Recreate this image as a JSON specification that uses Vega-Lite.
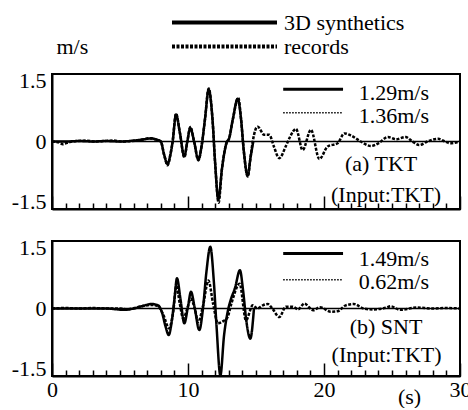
{
  "$schema": "https://vega.github.io/schema/vega-lite/v6.json",
  "padding": {"left": 10, "top": 9, "right": 0, "bottom": 0},
  "config": {
    "font": "Liberation Serif",
    "view": {"stroke": "black", "strokeWidth": 2},
    "axis": {
      "grid": false, "domainColor": "black", "domainWidth": 2,
      "tickColor": "black", "tickWidth": 1.5,
      "labelColor": "black", "labelFont": "Liberation Serif", "labelFontSize": 22,
      "titleFont": "Liberation Serif", "titleFontSize": 22, "titleFontWeight": "normal", "titleColor": "black"
    },
    "text": {"font": "Liberation Serif", "fontSize": 22, "color": "black"}
  },
  "datasets": {
    "traces": [
      {"panel":"a","series":"3D synthetics","t":0,"v":0},
      {"panel":"a","series":"3D synthetics","t":1,"v":0},
      {"panel":"a","series":"3D synthetics","t":2,"v":0.01},
      {"panel":"a","series":"3D synthetics","t":3,"v":0},
      {"panel":"a","series":"3D synthetics","t":4,"v":0.01},
      {"panel":"a","series":"3D synthetics","t":5,"v":0},
      {"panel":"a","series":"3D synthetics","t":6,"v":0.02},
      {"panel":"a","series":"3D synthetics","t":6.8,"v":0.05},
      {"panel":"a","series":"3D synthetics","t":7.3,"v":0.07},
      {"panel":"a","series":"3D synthetics","t":7.7,"v":0.04},
      {"panel":"a","series":"3D synthetics","t":8.0,"v":0},
      {"panel":"a","series":"3D synthetics","t":8.25,"v":-0.3},
      {"panel":"a","series":"3D synthetics","t":8.5,"v":-0.5},
      {"panel":"a","series":"3D synthetics","t":8.7,"v":-0.3},
      {"panel":"a","series":"3D synthetics","t":8.87,"v":0},
      {"panel":"a","series":"3D synthetics","t":9.12,"v":0.6},
      {"panel":"a","series":"3D synthetics","t":9.4,"v":0.2},
      {"panel":"a","series":"3D synthetics","t":9.73,"v":-0.33},
      {"panel":"a","series":"3D synthetics","t":9.95,"v":0},
      {"panel":"a","series":"3D synthetics","t":10.17,"v":0.3},
      {"panel":"a","series":"3D synthetics","t":10.45,"v":0},
      {"panel":"a","series":"3D synthetics","t":10.76,"v":-0.4},
      {"panel":"a","series":"3D synthetics","t":11.0,"v":-0.1},
      {"panel":"a","series":"3D synthetics","t":11.25,"v":0.5},
      {"panel":"a","series":"3D synthetics","t":11.52,"v":1.15},
      {"panel":"a","series":"3D synthetics","t":11.8,"v":0.5},
      {"panel":"a","series":"3D synthetics","t":12.0,"v":-0.5},
      {"panel":"a","series":"3D synthetics","t":12.23,"v":-1.29},
      {"panel":"a","series":"3D synthetics","t":12.5,"v":-0.6},
      {"panel":"a","series":"3D synthetics","t":12.87,"v":0},
      {"panel":"a","series":"3D synthetics","t":13.0,"v":0.05},
      {"panel":"a","series":"3D synthetics","t":13.3,"v":0.5},
      {"panel":"a","series":"3D synthetics","t":13.65,"v":0.95},
      {"panel":"a","series":"3D synthetics","t":13.9,"v":0.5},
      {"panel":"a","series":"3D synthetics","t":14.1,"v":-0.2},
      {"panel":"a","series":"3D synthetics","t":14.39,"v":-0.76},
      {"panel":"a","series":"3D synthetics","t":14.6,"v":-0.35},
      {"panel":"a","series":"3D synthetics","t":14.8,"v":0},

      {"panel":"a","series":"records","t":0,"v":0},
      {"panel":"a","series":"records","t":0.5,"v":-0.02},
      {"panel":"a","series":"records","t":0.8,"v":-0.06},
      {"panel":"a","series":"records","t":1.2,"v":-0.02},
      {"panel":"a","series":"records","t":1.8,"v":0.01},
      {"panel":"a","series":"records","t":2.5,"v":0.02},
      {"panel":"a","series":"records","t":3.2,"v":0},
      {"panel":"a","series":"records","t":3.8,"v":0.01},
      {"panel":"a","series":"records","t":4.5,"v":0.02},
      {"panel":"a","series":"records","t":5.2,"v":0},
      {"panel":"a","series":"records","t":5.8,"v":0.01},
      {"panel":"a","series":"records","t":6.5,"v":0.03},
      {"panel":"a","series":"records","t":7.1,"v":0.07},
      {"panel":"a","series":"records","t":7.6,"v":0.05},
      {"panel":"a","series":"records","t":8.0,"v":0},
      {"panel":"a","series":"records","t":8.25,"v":-0.3},
      {"panel":"a","series":"records","t":8.5,"v":-0.53},
      {"panel":"a","series":"records","t":8.7,"v":-0.3},
      {"panel":"a","series":"records","t":8.87,"v":0},
      {"panel":"a","series":"records","t":9.12,"v":0.62},
      {"panel":"a","series":"records","t":9.4,"v":0.2},
      {"panel":"a","series":"records","t":9.73,"v":-0.35},
      {"panel":"a","series":"records","t":9.95,"v":0},
      {"panel":"a","series":"records","t":10.17,"v":0.32},
      {"panel":"a","series":"records","t":10.45,"v":0},
      {"panel":"a","series":"records","t":10.76,"v":-0.42},
      {"panel":"a","series":"records","t":11.0,"v":-0.1},
      {"panel":"a","series":"records","t":11.25,"v":0.5},
      {"panel":"a","series":"records","t":11.52,"v":1.18},
      {"panel":"a","series":"records","t":11.8,"v":0.5},
      {"panel":"a","series":"records","t":12.0,"v":-0.5},
      {"panel":"a","series":"records","t":12.25,"v":-1.36},
      {"panel":"a","series":"records","t":12.5,"v":-0.6},
      {"panel":"a","series":"records","t":12.87,"v":0},
      {"panel":"a","series":"records","t":13.0,"v":0.05},
      {"panel":"a","series":"records","t":13.3,"v":0.5},
      {"panel":"a","series":"records","t":13.7,"v":0.97},
      {"panel":"a","series":"records","t":13.9,"v":0.5},
      {"panel":"a","series":"records","t":14.1,"v":-0.2},
      {"panel":"a","series":"records","t":14.39,"v":-0.78},
      {"panel":"a","series":"records","t":14.6,"v":-0.35},
      {"panel":"a","series":"records","t":14.76,"v":0},
      {"panel":"a","series":"records","t":15.12,"v":0.33},
      {"panel":"a","series":"records","t":15.6,"v":0.15},
      {"panel":"a","series":"records","t":15.98,"v":0.15},
      {"panel":"a","series":"records","t":16.3,"v":-0.1},
      {"panel":"a","series":"records","t":16.71,"v":-0.37},
      {"panel":"a","series":"records","t":17.2,"v":-0.1},
      {"panel":"a","series":"records","t":17.5,"v":0.1},
      {"panel":"a","series":"records","t":17.94,"v":0.28},
      {"panel":"a","series":"records","t":18.43,"v":-0.19},
      {"panel":"a","series":"records","t":19.04,"v":0.26},
      {"panel":"a","series":"records","t":19.66,"v":-0.39},
      {"panel":"a","series":"records","t":20.27,"v":-0.11},
      {"panel":"a","series":"records","t":21.0,"v":-0.04},
      {"panel":"a","series":"records","t":21.5,"v":0.18},
      {"panel":"a","series":"records","t":22.0,"v":0.13},
      {"panel":"a","series":"records","t":22.7,"v":0},
      {"panel":"a","series":"records","t":23.45,"v":-0.1},
      {"panel":"a","series":"records","t":24.0,"v":-0.04},
      {"panel":"a","series":"records","t":24.7,"v":0.1},
      {"panel":"a","series":"records","t":25.3,"v":0.05},
      {"panel":"a","series":"records","t":26.0,"v":0.1},
      {"panel":"a","series":"records","t":26.5,"v":0},
      {"panel":"a","series":"records","t":27.0,"v":-0.08},
      {"panel":"a","series":"records","t":27.6,"v":0},
      {"panel":"a","series":"records","t":28.4,"v":0.06},
      {"panel":"a","series":"records","t":28.9,"v":0},
      {"panel":"a","series":"records","t":29.3,"v":-0.04},
      {"panel":"a","series":"records","t":30,"v":0},

      {"panel":"b","series":"3D synthetics","t":0,"v":0},
      {"panel":"b","series":"3D synthetics","t":2,"v":0},
      {"panel":"b","series":"3D synthetics","t":4,"v":0},
      {"panel":"b","series":"3D synthetics","t":5.3,"v":-0.03},
      {"panel":"b","series":"3D synthetics","t":6.0,"v":0},
      {"panel":"b","series":"3D synthetics","t":6.7,"v":0.06},
      {"panel":"b","series":"3D synthetics","t":7.3,"v":0.1},
      {"panel":"b","series":"3D synthetics","t":7.8,"v":0.07},
      {"panel":"b","series":"3D synthetics","t":8.1,"v":-0.1},
      {"panel":"b","series":"3D synthetics","t":8.35,"v":-0.4},
      {"panel":"b","series":"3D synthetics","t":8.58,"v":-0.59},
      {"panel":"b","series":"3D synthetics","t":8.8,"v":-0.3},
      {"panel":"b","series":"3D synthetics","t":9.0,"v":0.2},
      {"panel":"b","series":"3D synthetics","t":9.19,"v":0.67},
      {"panel":"b","series":"3D synthetics","t":9.45,"v":0.2},
      {"panel":"b","series":"3D synthetics","t":9.73,"v":-0.33},
      {"panel":"b","series":"3D synthetics","t":10.0,"v":0.05},
      {"panel":"b","series":"3D synthetics","t":10.22,"v":0.37},
      {"panel":"b","series":"3D synthetics","t":10.5,"v":0},
      {"panel":"b","series":"3D synthetics","t":10.83,"v":-0.48},
      {"panel":"b","series":"3D synthetics","t":11.1,"v":0},
      {"panel":"b","series":"3D synthetics","t":11.35,"v":0.8},
      {"panel":"b","series":"3D synthetics","t":11.64,"v":1.37},
      {"panel":"b","series":"3D synthetics","t":11.9,"v":0.6},
      {"panel":"b","series":"3D synthetics","t":12.1,"v":-0.4},
      {"panel":"b","series":"3D synthetics","t":12.38,"v":-1.49},
      {"panel":"b","series":"3D synthetics","t":12.65,"v":-0.6},
      {"panel":"b","series":"3D synthetics","t":12.97,"v":0},
      {"panel":"b","series":"3D synthetics","t":13.15,"v":0.2},
      {"panel":"b","series":"3D synthetics","t":13.45,"v":0.45},
      {"panel":"b","series":"3D synthetics","t":13.82,"v":0.85},
      {"panel":"b","series":"3D synthetics","t":14.05,"v":0.4},
      {"panel":"b","series":"3D synthetics","t":14.3,"v":-0.3},
      {"panel":"b","series":"3D synthetics","t":14.58,"v":-0.67},
      {"panel":"b","series":"3D synthetics","t":14.85,"v":0},

      {"panel":"b","series":"records","t":0,"v":0},
      {"panel":"b","series":"records","t":1,"v":0.01},
      {"panel":"b","series":"records","t":2,"v":0},
      {"panel":"b","series":"records","t":3,"v":0.01},
      {"panel":"b","series":"records","t":4,"v":0},
      {"panel":"b","series":"records","t":5,"v":0},
      {"panel":"b","series":"records","t":5.5,"v":-0.02},
      {"panel":"b","series":"records","t":6.2,"v":0.02},
      {"panel":"b","series":"records","t":6.8,"v":0.06},
      {"panel":"b","series":"records","t":7.3,"v":0.08},
      {"panel":"b","series":"records","t":7.8,"v":0.05},
      {"panel":"b","series":"records","t":8.2,"v":-0.15},
      {"panel":"b","series":"records","t":8.6,"v":-0.44},
      {"panel":"b","series":"records","t":8.9,"v":-0.1},
      {"panel":"b","series":"records","t":9.15,"v":0.5},
      {"panel":"b","series":"records","t":9.4,"v":0.1},
      {"panel":"b","series":"records","t":9.65,"v":-0.22},
      {"panel":"b","series":"records","t":9.95,"v":0},
      {"panel":"b","series":"records","t":10.2,"v":0.22},
      {"panel":"b","series":"records","t":10.5,"v":0},
      {"panel":"b","series":"records","t":10.75,"v":-0.3},
      {"panel":"b","series":"records","t":11.1,"v":0.05},
      {"panel":"b","series":"records","t":11.5,"v":0.62},
      {"panel":"b","series":"records","t":11.85,"v":0.1},
      {"panel":"b","series":"records","t":12.2,"v":-0.33},
      {"panel":"b","series":"records","t":12.6,"v":-0.28},
      {"panel":"b","series":"records","t":12.9,"v":-0.2},
      {"panel":"b","series":"records","t":13.2,"v":0.12},
      {"panel":"b","series":"records","t":13.8,"v":0.55},
      {"panel":"b","series":"records","t":14.26,"v":-0.26},
      {"panel":"b","series":"records","t":14.76,"v":0.07},
      {"panel":"b","series":"records","t":15.1,"v":0},
      {"panel":"b","series":"records","t":15.5,"v":0.07},
      {"panel":"b","series":"records","t":15.86,"v":0.1},
      {"panel":"b","series":"records","t":16.2,"v":0},
      {"panel":"b","series":"records","t":16.71,"v":-0.19},
      {"panel":"b","series":"records","t":17.2,"v":0.04},
      {"panel":"b","series":"records","t":17.7,"v":0.04},
      {"panel":"b","series":"records","t":18.1,"v":-0.02},
      {"panel":"b","series":"records","t":18.55,"v":0.11},
      {"panel":"b","series":"records","t":19.2,"v":-0.04},
      {"panel":"b","series":"records","t":19.7,"v":0.03},
      {"panel":"b","series":"records","t":20.5,"v":-0.07},
      {"panel":"b","series":"records","t":21.0,"v":-0.06},
      {"panel":"b","series":"records","t":21.6,"v":0.07},
      {"panel":"b","series":"records","t":22.2,"v":0.1},
      {"panel":"b","series":"records","t":22.9,"v":0},
      {"panel":"b","series":"records","t":23.6,"v":-0.02},
      {"panel":"b","series":"records","t":24.6,"v":0.02},
      {"panel":"b","series":"records","t":24.9,"v":0.05},
      {"panel":"b","series":"records","t":25.6,"v":-0.03},
      {"panel":"b","series":"records","t":26.8,"v":0.02},
      {"panel":"b","series":"records","t":28.0,"v":0},
      {"panel":"b","series":"records","t":29.0,"v":0.01},
      {"panel":"b","series":"records","t":30,"v":0}
    ]
  },
  "spacing": 22,
  "resolve": {"legend": {"strokeDash": "independent"}},
  "vconcat": [
    {
      "width": 408,
      "height": 135,
      "resolve": {"axis": {"x": "independent"}},
      "layer": [
        {
          "data": {"values": [{}]},
          "mark": {"type": "rule", "color": "black", "strokeWidth": 1.5},
          "encoding": {
            "y": {"datum": 0},
            "x": {
              "datum": 0,
              "scale": {"domain": [0, 30], "nice": false, "zero": false},
              "axis": {
                "orient": "bottom", "title": null, "labels": false, "domain": false,
                "values": [0,1,2,3,4,5,6,7,8,9,10,11,12,13,14,15,16,17,18,19,20,21,22,23,24,25,26,27,28,29,30],
                "tickSize": {"condition": {"test": "datum.value % 10 === 0", "value": -13}, "value": -6}
              }
            },
            "x2": {"datum": 30}
          }
        },
        {
          "data": {"name": "traces"},
          "transform": [{"filter": "datum.panel === 'a'"}],
          "mark": {"type": "line", "interpolate": "monotone", "color": "black", "strokeWidth": 2.5},
          "encoding": {
            "x": {
              "field": "t", "type": "quantitative",
              "scale": {"domain": [0, 30], "nice": false, "zero": false},
              "axis": {"orient": "bottom", "title": null, "labels": false, "ticks": false, "values": [0, 10, 20, 30]}
            },
            "y": {
              "field": "v", "type": "quantitative",
              "scale": {"domain": [-1.5, 1.5], "nice": false},
              "axis": {
                "values": [-1.5, 0, 1.5], "ticks": false, "labelFlush": true, "labelFlushOffset": 4, "labelPadding": 6,
                "labelExpr": "datum.value === 0 ? '0' : (datum.value < 0 ? '-' : '') + format(abs(datum.value), '.1f')",
                "title": "m/s", "titleAngle": 0, "titleAlign": "left", "titleBaseline": "alphabetic",
                "titleX": 4, "titleY": -21
              }
            },
            "strokeDash": {
              "field": "series", "type": "nominal",
              "scale": {"domain": ["3D synthetics", "records"], "range": [[1, 0], [3, 1.5]]},
              "legend": {
                "title": null, "orient": "none", "direction": "vertical",
                "legendX": 160, "legendY": -64, "padding": 0,
                "symbolType": "M-5,0H5", "symbolSize": 441, "symbolStrokeWidth": 4,
                "symbolStrokeColor": "black",
                "labelFont": "Liberation Serif", "labelFontSize": 22, "labelColor": "black",
                "labelOffset": 47, "rowPadding": 0
              }
            }
          }
        },
        {
          "data": {"values": [{}]},
          "mark": {"type": "rule", "color": "black", "strokeWidth": 3},
          "encoding": {"x": {"datum": 17.0, "axis": null}, "x2": {"datum": 21.4}, "y": {"datum": 1.16}}
        },
        {
          "data": {"values": [{}]},
          "mark": {"type": "rule", "color": "black", "strokeWidth": 1.5, "strokeDash": [1.5, 1.5]},
          "encoding": {"x": {"datum": 17.0, "axis": null}, "x2": {"datum": 21.4}, "y": {"datum": 0.64}}
        },
        {
          "data": {"values": [{}]},
          "mark": {"type": "text", "align": "left", "baseline": "middle"},
          "encoding": {"x": {"datum": 22.55, "axis": null}, "y": {"datum": 1.08}, "text": {"value": "1.29m/s"}}
        },
        {
          "data": {"values": [{}]},
          "mark": {"type": "text", "align": "left", "baseline": "middle"},
          "encoding": {"x": {"datum": 22.55, "axis": null}, "y": {"datum": 0.56}, "text": {"value": "1.36m/s"}}
        },
        {
          "data": {"values": [{}]},
          "mark": {"type": "text", "align": "center", "baseline": "middle"},
          "encoding": {"x": {"datum": 24.2, "axis": null}, "y": {"datum": -0.51}, "text": {"value": "(a) TKT"}}
        },
        {
          "data": {"values": [{}]},
          "mark": {"type": "text", "align": "center", "baseline": "middle"},
          "encoding": {"x": {"datum": 24.56, "axis": null}, "y": {"datum": -1.18}, "text": {"value": "(Input:TKT)"}}
        }
      ]
    },
    {
      "width": 408,
      "height": 135,
      "resolve": {"axis": {"x": "independent"}},
      "layer": [
        {
          "data": {"values": [{}]},
          "mark": {"type": "rule", "color": "black", "strokeWidth": 1.5},
          "encoding": {
            "y": {"datum": 0},
            "x": {
              "datum": 0,
              "scale": {"domain": [0, 30], "nice": false, "zero": false},
              "axis": {
                "orient": "bottom", "title": null, "labels": false, "domain": false,
                "values": [0,1,2,3,4,5,6,7,8,9,10,11,12,13,14,15,16,17,18,19,20,21,22,23,24,25,26,27,28,29,30],
                "tickSize": {"condition": {"test": "datum.value % 10 === 0", "value": -13}, "value": -6}
              }
            },
            "x2": {"datum": 30}
          }
        },
        {
          "data": {"name": "traces"},
          "transform": [{"filter": "datum.panel === 'b'"}],
          "mark": {"type": "line", "interpolate": "monotone", "color": "black", "strokeWidth": 2.5},
          "encoding": {
            "x": {
              "field": "t", "type": "quantitative",
              "scale": {"domain": [0, 30], "nice": false, "zero": false},
              "axis": {
                "orient": "bottom", "values": [0, 10, 20, 30], "ticks": false,
                "labelOverlap": false, "labelFlush": false, "labelPadding": 3,
                "title": "(s)", "titleX": 357, "titleY": 27, "titleAlign": "center", "titleBaseline": "alphabetic"
              }
            },
            "y": {
              "field": "v", "type": "quantitative",
              "scale": {"domain": [-1.5, 1.5], "nice": false},
              "axis": {
                "values": [-1.5, 0, 1.5], "ticks": false, "labelFlush": true, "labelFlushOffset": 4, "labelPadding": 6,
                "labelExpr": "datum.value === 0 ? '0' : (datum.value < 0 ? '-' : '') + format(abs(datum.value), '.1f')",
                "title": null
              }
            },
            "strokeDash": {
              "field": "series", "type": "nominal",
              "scale": {"domain": ["3D synthetics", "records"], "range": [[1, 0], [3, 1.5]]},
              "legend": null
            }
          }
        },
        {
          "data": {"values": [{}]},
          "mark": {"type": "rule", "color": "black", "strokeWidth": 3},
          "encoding": {"x": {"datum": 17.0, "axis": null}, "x2": {"datum": 21.4}, "y": {"datum": 1.22}}
        },
        {
          "data": {"values": [{}]},
          "mark": {"type": "rule", "color": "black", "strokeWidth": 1.5, "strokeDash": [1.5, 1.5]},
          "encoding": {"x": {"datum": 17.0, "axis": null}, "x2": {"datum": 21.4}, "y": {"datum": 0.64}}
        },
        {
          "data": {"values": [{}]},
          "mark": {"type": "text", "align": "left", "baseline": "middle"},
          "encoding": {"x": {"datum": 22.55, "axis": null}, "y": {"datum": 1.1}, "text": {"value": "1.49m/s"}}
        },
        {
          "data": {"values": [{}]},
          "mark": {"type": "text", "align": "left", "baseline": "middle"},
          "encoding": {"x": {"datum": 22.55, "axis": null}, "y": {"datum": 0.59}, "text": {"value": "0.62m/s"}}
        },
        {
          "data": {"values": [{}]},
          "mark": {"type": "text", "align": "center", "baseline": "middle"},
          "encoding": {"x": {"datum": 24.56, "axis": null}, "y": {"datum": -0.42}, "text": {"value": "(b) SNT"}}
        },
        {
          "data": {"values": [{}]},
          "mark": {"type": "text", "align": "center", "baseline": "middle"},
          "encoding": {"x": {"datum": 24.6, "axis": null}, "y": {"datum": -1.04}, "text": {"value": "(Input:TKT)"}}
        }
      ]
    }
  ]
}
